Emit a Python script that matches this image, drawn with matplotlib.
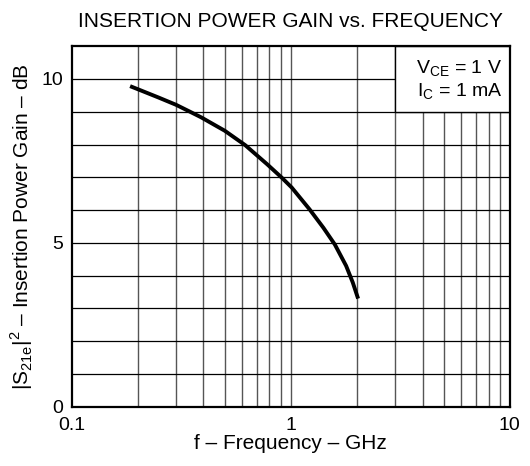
import matplotlib
matplotlib.use("Agg")
import matplotlib.pyplot as plt
from matplotlib.patches import Rectangle

plt.rcParams["font.family"] = ["Liberation Sans", "DejaVu Sans"]
plt.rcParams["mathtext.fontset"] = "custom"
plt.rcParams["mathtext.rm"] = "Liberation Sans"

# curve (GHz, dB)
freq = [0.185, 0.2, 0.25, 0.3, 0.347, 0.39, 0.5, 0.62, 0.78, 0.91, 1.01,
        1.22, 1.41, 1.59, 1.79, 1.92, 2.03]
gain = [9.78, 9.69, 9.43, 9.21, 9.0, 8.83, 8.42, 7.98, 7.40, 6.99, 6.69,
        6.02, 5.46, 4.95, 4.30, 3.79, 3.3]

x_grid = [0.2, 0.3, 0.4, 0.5, 0.6, 0.7, 0.8, 0.9, 1, 2, 3, 4, 5, 6, 7, 8, 9]
y_grid = [1, 2, 3, 4, 5, 6, 7, 8, 9, 10]
x_ticks = [0.1, 1, 10]
x_ticklabels = ["0.1", "1", "10"]
y_ticks = [0, 5, 10]

fig = plt.figure(figsize=(5.3, 4.66), dpi=100)
ax = fig.add_axes([0.135, 0.127, 0.827, 0.774])

ax.set_xscale("log")
ax.set_xlim(0.1, 10)
ax.set_ylim(0, 11)

for x in x_grid:
    ax.axvline(x, color="#555555", linewidth=1.0, zorder=1)
for y in y_grid:
    ax.axhline(y, color="black", linewidth=0.9, zorder=1)

# condition box in the top right corner
ax.add_patch(Rectangle((3, 9), 7, 2, facecolor="white", edgecolor="black",
                       linewidth=1.0, zorder=2))
ax.text(0.983, 0.965, "V$_{\\mathregular{CE}}$ = 1 V\nI$_{\\mathregular{C}}$ = 1 mA",
        transform=ax.transAxes, ha="right", va="top", fontsize=14,
        linespacing=1.2, zorder=3)

ax.plot(freq, gain, color="black", linewidth=2.8, solid_joinstyle="round",
        solid_capstyle="butt", zorder=4)

ax.set_xticks(x_ticks)
ax.set_xticklabels(x_ticklabels)
ax.xaxis.set_minor_locator(plt.NullLocator())
ax.set_yticks(y_ticks)
ax.tick_params(length=0, labelsize=14)
ax.tick_params(axis="x", pad=7)
ax.tick_params(axis="y", pad=6)

for s in ax.spines.values():
    s.set_linewidth(1.6)
    s.set_zorder(5)

ax.set_xlabel("f – Frequency – GHz", fontsize=15, labelpad=0)
ax.set_ylabel("|S$_{\\mathregular{21e}}$|$^{\\mathregular{2}}$ – Insertion Power Gain – dB",
              fontsize=15, labelpad=5)
ax.set_title("INSERTION POWER GAIN vs. FREQUENCY", fontsize=15, pad=14)

fig.savefig("out.png", dpi=100)
